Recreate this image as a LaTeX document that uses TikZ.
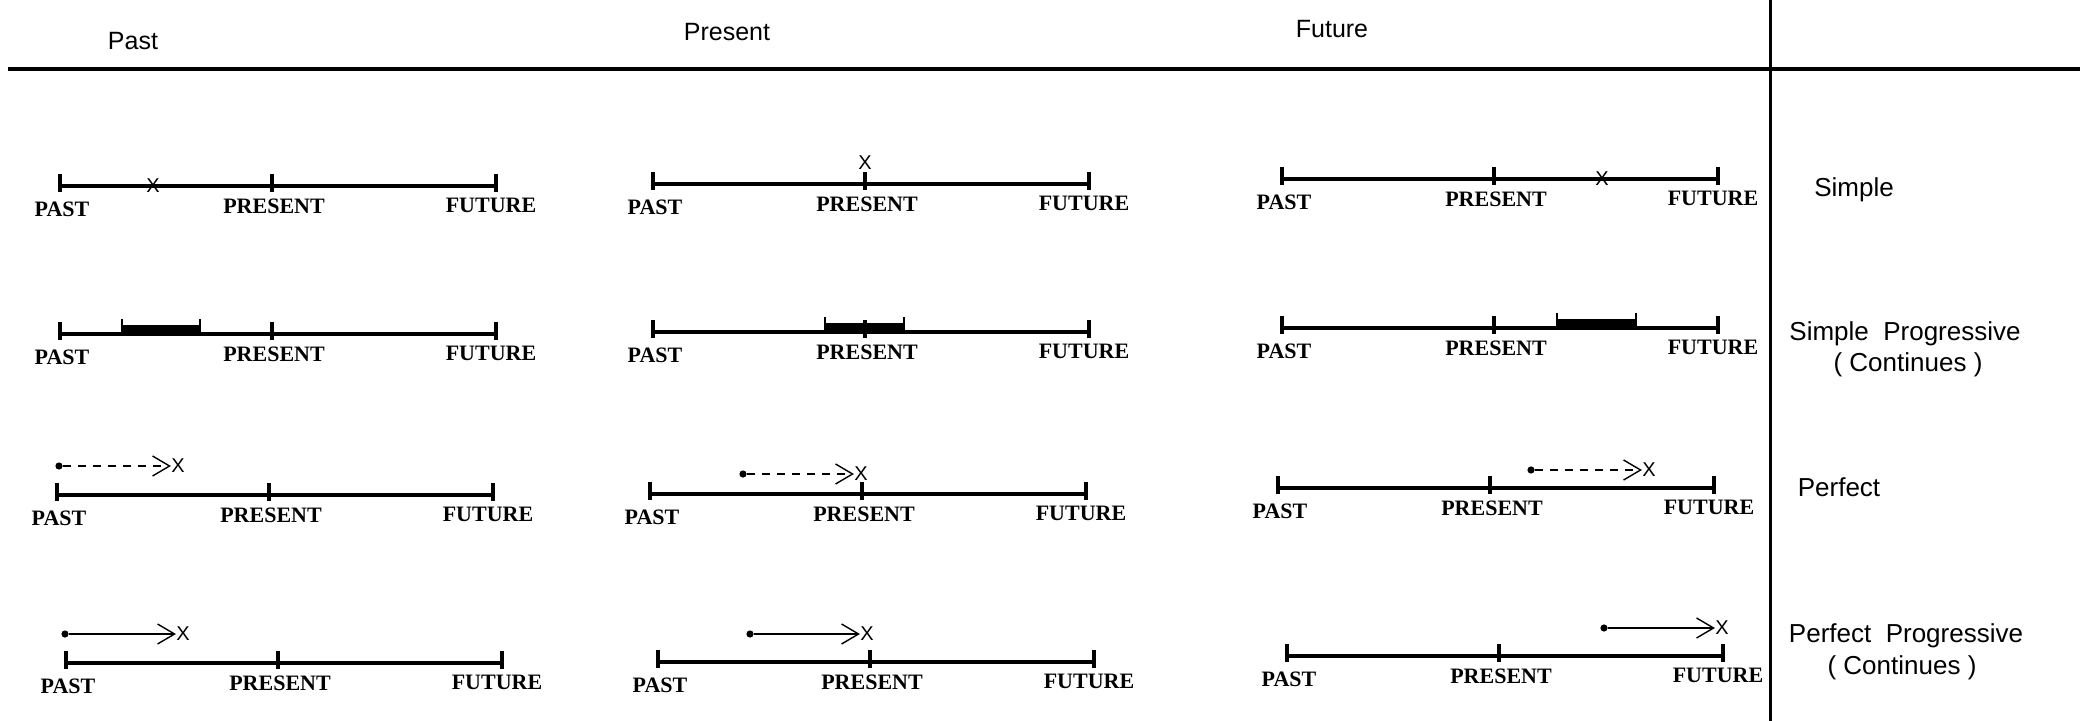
\documentclass[tikz,border=0pt]{standalone}
\usepackage{fontspec}
\setmainfont{Liberation Serif}
\setsansfont{Liberation Sans}
\usetikzlibrary{arrows.meta}

\begin{document}
\begin{tikzpicture}[x=0.5pt,y=-0.5pt,
  tline/.style={line width=1.7pt},
  tick/.style={line width=2.4pt},
  lab/.style={font=\fontsize{11}{11}\selectfont\bfseries,inner sep=0pt,text depth=0pt},
  head/.style={font=\sffamily\fontsize{12.5}{12.5}\selectfont,inner sep=0pt,text depth=0pt},
  side/.style={font=\sffamily\fontsize{13}{13}\selectfont,inner sep=0pt,text depth=0pt},
  xmark/.style={font=\sffamily\fontsize{10}{10}\selectfont,inner sep=0pt,text depth=0pt},
  dot/.style={circle,fill,inner sep=0pt,minimum size=3.6pt},
  arr/.style={line width=0.7pt,-{Straight Barb[length=8.5pt,width=10pt]}},
  perf/.style={arr,dash pattern=on 4pt off 3.5pt},
  ]
  \useasboundingbox (0,0) rectangle (2080,721);
  % header and frame
  \node[head] (hpast) at (133,41) {Past};
  \node[head] (hpres) at (727,32) {Present};
  \node[head] (hfut) at (1332,29) {Future};
  \coordinate (rl) at (8,69);
  \coordinate (rr) at (2080,69);
  \draw[line width=2pt] (rl) -- (rr);
  \coordinate (vt) at (1770,0);
  \coordinate (vb) at (1770,721);
  \draw[line width=1.5pt] (vt) -- (vb);
  % tense names
  \node[side] (simple) at (1854,187) {Simple};
  \node[side] (sprog) at (1905,331) {Simple~~Progressive};
  \node[side] (scont) at (1908,362) {( Continues )};
  \node[side] (perfect) at (1839,487) {Perfect};
  \node[side] (pprog) at (1906,633) {Perfect~~Progressive};
  \node[side] (pcont) at (1902,665) {( Continues )};
  % time lines
  \foreach \n/\x/\y in {s1/60/186,s2/653/184,s3/1282/179,
    sp1/60/334,sp2/653/332,sp3/1282/328,
    p1/57/495,p2/650/494,p3/1278/488,
    pp1/66/663,pp2/658/662,pp3/1287/656}{
    \coordinate (\n-l) at (\x,\y);
    \coordinate (\n-m) at (\x+212,\y);
    \coordinate (\n-r) at (\x+436,\y);
    \draw[tline] (\n-l) -- (\n-r);
    \foreach \d in {0,212,436}
      \draw[tick] (\x+\d,\y-12) -- (\x+\d,\y+6);
    \node[lab] (\n-past) at (\x+2,\y+23) {PAST};
    \node[lab] (\n-pres) at (\x+214,\y+20) {PRESENT};
    \node[lab] (\n-fut) at (\x+431,\y+19) {FUTURE};
  }
  % simple
  \node[xmark] (s1-x) at (153,186) {X};
  \node[xmark] (s2-x) at (865,163) {X};
  \node[xmark] (s3-x) at (1602,179) {X};
  % simple progressive
  \foreach \a/\b/\y in {122/200/334,825/904/332,1557/1636/328}{
    \fill (\a,\y-9) rectangle (\b,\y);
    \draw[line width=0.8pt] (\a,\y-15) -- (\a,\y) (\b,\y-15) -- (\b,\y);
  }
  % perfect
  \node[dot] (p1-s) at (59,466) {};
  \node[xmark] (p1-x) at (178,466) {X};
  \draw[perf] (p1-s) -- (p1-x);
  \node[dot] (p2-s) at (743,474) {};
  \node[xmark] (p2-x) at (861,474) {X};
  \draw[perf] (p2-s) -- (p2-x);
  \node[dot] (p3-s) at (1531,470) {};
  \node[xmark] (p3-x) at (1649,470) {X};
  \draw[perf] (p3-s) -- (p3-x);
  % perfect progressive
  \node[dot] (pp1-s) at (65,634) {};
  \node[xmark] (pp1-x) at (183,634) {X};
  \draw[arr] (pp1-s) -- (pp1-x);
  \node[dot] (pp2-s) at (750,634) {};
  \node[xmark] (pp2-x) at (867,634) {X};
  \draw[arr] (pp2-s) -- (pp2-x);
  \node[dot] (pp3-s) at (1604,628) {};
  \node[xmark] (pp3-x) at (1722,628) {X};
  \draw[arr] (pp3-s) -- (pp3-x);
\end{tikzpicture}
\end{document}
